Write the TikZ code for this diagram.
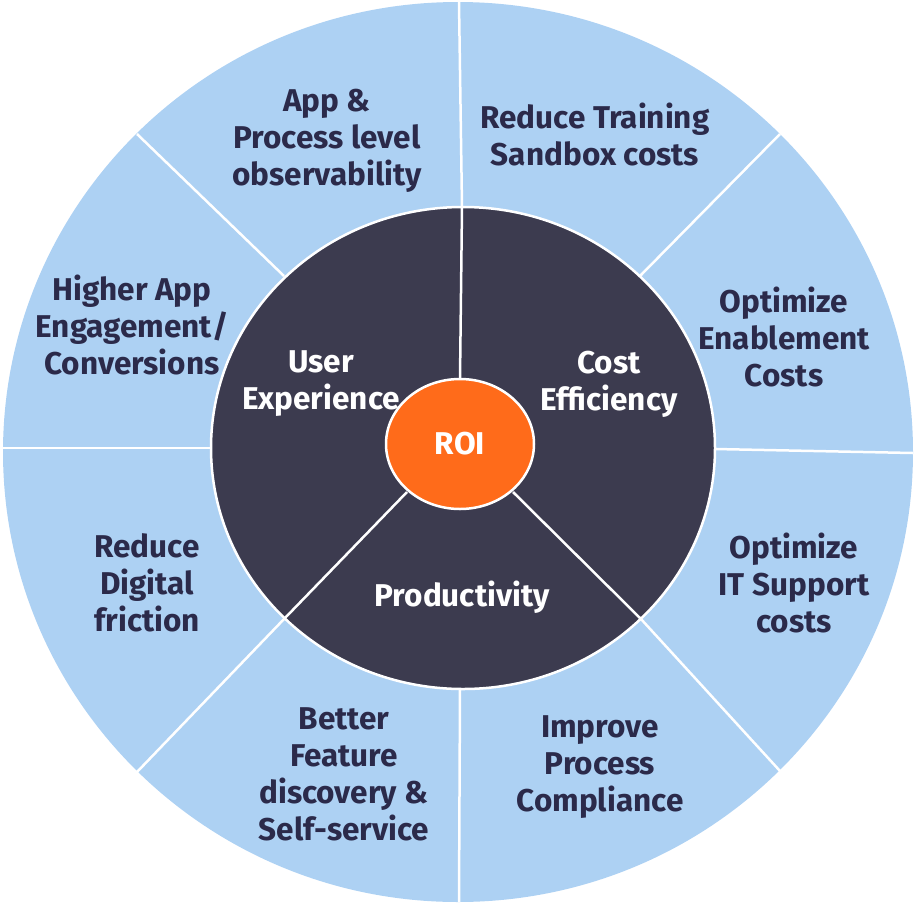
\documentclass[tikz,border=0pt]{standalone}
\usepackage{fontspec}
\setmainfont{Fira Sans}
\definecolor{lightblue}{HTML}{ADD1F3}
\definecolor{darkcore}{HTML}{3C3B4F}
\definecolor{roiorange}{HTML}{FF6B1A}
\definecolor{navytext}{HTML}{2B2A4A}
\tikzset{
  divider/.style={draw=white, line width=2.5pt},
  outertext/.style={text=navytext, font=\fontsize{31.5}{37}\selectfont\bfseries, align=center, inner sep=0pt},
  innertext/.style={text=white, font=\fontsize{31.5}{37}\selectfont\bfseries, align=center, inner sep=0pt}
}
\begin{document}
\begin{tikzpicture}[x=1pt,y=-1pt]
\useasboundingbox (0,0) rectangle (916,903);
% outer disc
\fill[lightblue] (458,452) ellipse [x radius=455pt, y radius=450pt];
% coordinates
\coordinate (o90) at (459,2);    \coordinate (i90) at (462,207);
\coordinate (o135) at (137,134); \coordinate (i135) at (284,276);
\coordinate (o180) at (3,448);   \coordinate (i180) at (211,448);
\coordinate (o225) at (137,772); \coordinate (i225) at (285,618);
\coordinate (o270) at (459,902); \coordinate (i270) at (460,689);
\coordinate (o315) at (780,771); \coordinate (i315) at (641,619);
\coordinate (o0) at (913,453);   \coordinate (i0) at (715,449);
\coordinate (o45) at (780,134);  \coordinate (i45) at (640,276);
\foreach \a in {90,135,180,225,270,315,0,45} {
  \draw[divider] (o\a) -- (i\a);
}
% inner disc
\filldraw[fill=darkcore, draw=white, line width=2.5pt] (463,448) ellipse [x radius=252pt, y radius=241pt];
% ROI spokes
\coordinate (r90) at (460,379);
\coordinate (r225) at (407,492);
\coordinate (r315) at (513,492);
\draw[divider] (r90) -- (i90);
\draw[divider] (r225) -- (i225);
\draw[divider] (r315) -- (i315);
% ROI
\filldraw[fill=roiorange, draw=white, line width=2.5pt] (460,444) ellipse [x radius=74pt, y radius=65pt];
\node[innertext] (roi) at (460,444) {ROI};
% inner labels
\node[innertext] (ux) at (321,384) {User\\Experience};
\node[innertext] (ce) at (609,384) {Cost\\Efficiency};
\node[innertext] (pr) at (462,597) {Productivity};
% outer labels
\node[outertext] (t1) at (327,141) {App \&\\Process level\\observability};
\node[outertext] (t2) at (595,134) {Reduce Training\\Sandbox costs};
\node[outertext] (t3) at (784,337) {Optimize\\Enablement\\Costs};
\node[outertext] (t4) at (794,583) {Optimize\\IT Support\\costs};
\node[outertext] (t5) at (600,767) {Improve\\Process\\Compliance};
\node[outertext] (t6) at (344,774) {Better\\Feature\\discovery \&\\Self-service};
\node[outertext] (t7) at (147,583) {Reduce\\Digital\\friction};
\node[outertext] (t8) at (132,325) {Higher App\\Engagement/\\Conversions};
\end{tikzpicture}
\end{document}
